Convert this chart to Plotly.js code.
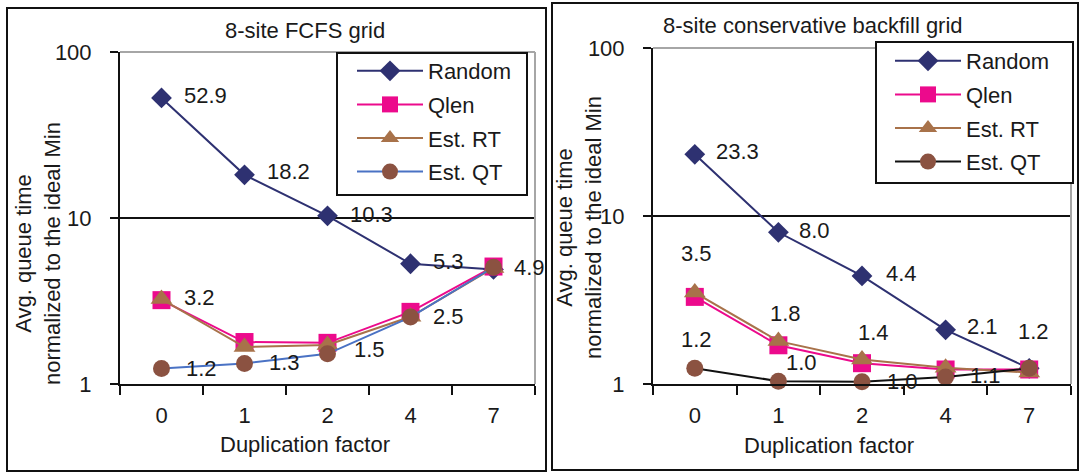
<!DOCTYPE html>
<html>
<head>
<meta charset="utf-8">
<script src="https://cdn.plot.ly/plotly-3.0.1.min.js"></script>
<style>
  html, body { margin: 0; padding: 0; background: #ffffff; }
  #chart { width: 1080px; height: 473px; }
</style>
</head>
<body>
<div id="chart"></div>
<script>
// ---------------- data ----------------
const categories = ['0', '1', '2', '4', '7'];
const seriesNames = ['Random', 'Qlen', 'Est. RT', 'Est. QT'];

// 8-site FCFS grid
const fcfsRandom = [52.9, 18.2, 10.3, 5.3, 4.9];
const fcfsQlen   = [3.2, 1.79, 1.77, 2.72, 5.1];
const fcfsEstRT  = [3.25, 1.67, 1.72, 2.54, 5.0];
const fcfsEstQT  = [1.24, 1.33, 1.52, 2.53, 5.05];

// 8-site conservative backfill grid
const cbfRandom = [23.3, 8.0, 4.4, 2.1, 1.24];
const cbfQlen   = [3.3, 1.7, 1.33, 1.22, 1.22];
const cbfEstRT  = [3.5, 1.8, 1.4, 1.25, 1.17];
const cbfEstQT  = [1.24, 1.04, 1.03, 1.1, 1.24];

const panelTitles = ['8-site FCFS grid', '8-site conservative backfill grid'];
const xTitle = 'Duplication factor';
const yTitle = 'Avg. queue time<br>normalized to the ideal Min';
const yTickVals = [1, 10, 100];
const yTickText = ['1', '10', '100'];

// ---------------- styles ----------------
const FONT = 'Liberation Sans, Arial, sans-serif';
const FS = 22;
const W = 1080, H = 473;
const px = v => v / W;
const py = v => 1 - v / H;

const colRandom = '#2e3171';
const colQlen = '#ec0a8c';
const colRT = '#a8724a';
const colQTmarker = '#8b5241';

const styles = [
  {symbol: 'diamond', size: 16, color: colRandom, line: colRandom},
  {symbol: 'square', size: 18, color: colQlen, line: colQlen},
  {symbol: 'triangle-up', size: 19, color: colRT, line: colRT},
  {symbol: 'circle', size: 17, color: colQTmarker, line: null}
];
const qtLineColors = ['#4a72c4', '#111111'];

// label placement per point: null = no label; [dx, dy, anchor]
const labelSpecs = [
  [ // FCFS
    [[20, -2, 'left'], [20, -3, 'left'], [20, -1, 'left'], [20, -2, 'left'], [18, -2, 'left']],
    [[20, -3, 'left'], null, null, null, null],
    [null, null, null, null, null],
    [[22, 0, 'left'], [22, -1, 'left'], [24, -4, 'left'], [20, -1, 'left'], null]
  ],
  [ // conservative backfill
    [[19, -3, 'left'], [19, -2, 'left'], [22, -2, 'left'], [19, -3, 'left'], [4, -37, 'center']],
    [null, null, null, null, null],
    [[2, -39, 'center'], [7, -28, 'center'], [11, -27, 'center'], null, null],
    [[2, -29, 'center'], [23, -19, 'center'], [23, 0, 'left'], [22, -2, 'left'], null]
  ]
];

const panels = [
  {data: [fcfsRandom, fcfsQlen, fcfsEstRT, fcfsEstQT], xa: 'x', ya: 'y', legend: 'legend',
   xd: [120, 535], yd: [52, 384], frame: [7, 8, 546, 471],
   legBox: [337, 53, 527, 195], legPos: [352, 50], title: [305, 31], xt: [305, 444], yt: [38, 254]},
  {data: [cbfRandom, cbfQlen, cbfEstRT, cbfEstQT], xa: 'x2', ya: 'y2', legend: 'legend2',
   xd: [653, 1071], yd: [48, 384], frame: [552, 3, 1078, 470],
   legBox: [876, 42, 1073, 183], legPos: [890, 40], title: [813, 25], xt: [829, 445], yt: [579, 228]}
];

const traces = [];
const annotations = [];
const shapes = [];

panels.forEach((p, pi) => {
  p.data.forEach((vals, si) => {
    const st = styles[si];
    const lineColor = st.line || qtLineColors[pi];
    traces.push({
      type: 'scatter', mode: 'lines+markers',
      x: categories, y: vals, name: seriesNames[si],
      xaxis: p.xa, yaxis: p.ya, legend: p.legend,
      legendgroup: p.legend + si,
      line: {color: lineColor, width: 2},
      marker: {symbol: st.symbol, size: st.size, color: st.color, line: {width: 0}},
      cliponaxis: false,
      hoverinfo: 'skip'
    });
    vals.forEach((v, i) => {
      const spec = labelSpecs[pi][si][i];
      if (!spec) return;
      annotations.push({
        xref: p.xa, yref: p.ya, x: i, y: Math.log10(v),
        text: v.toFixed(1), showarrow: false,
        xanchor: spec[2], yanchor: 'middle',
        xshift: spec[0], yshift: -spec[1],
        font: {family: FONT, size: FS, color: '#1a1a1a'}
      });
    });
  });
  // titles
  annotations.push({xref: 'paper', yref: 'paper', x: px(p.title[0]), y: py(p.title[1]),
    xanchor: 'center', yanchor: 'middle', showarrow: false, text: panelTitles[pi],
    font: {family: FONT, size: FS, color: '#1a1a1a'}});
  annotations.push({xref: 'paper', yref: 'paper', x: px(p.xt[0]), y: py(p.xt[1]),
    xanchor: 'center', yanchor: 'middle', showarrow: false, text: xTitle,
    font: {family: FONT, size: FS, color: '#1a1a1a'}});
  annotations.push({xref: 'paper', yref: 'paper', x: px(p.yt[0]), y: py(p.yt[1]),
    xanchor: 'center', yanchor: 'middle', showarrow: false, text: yTitle, textangle: -90,
    font: {family: FONT, size: FS, color: '#1a1a1a'}});
  // outer frame
  shapes.push({type: 'rect', xref: 'paper', yref: 'paper', layer: 'below',
    x0: px(p.frame[0]), x1: px(p.frame[2]), y0: py(p.frame[3]), y1: py(p.frame[1]),
    line: {color: '#111111', width: 2}});
  // gray plot-area border (top and right)
  const xdom = p.xa + ' domain', ydom = p.ya + ' domain';
  shapes.push({type: 'line', xref: xdom, yref: ydom, layer: 'above', x0: 0, x1: 1, y0: 1, y1: 1,
    line: {color: '#a6a6a6', width: 2}});
  shapes.push({type: 'line', xref: xdom, yref: ydom, layer: 'above', x0: 1, x1: 1, y0: 0, y1: 1,
    line: {color: '#a6a6a6', width: 2}});
});

// legend boxes (drawn after borders so they cover them)
panels.forEach(p => {
  shapes.push({type: 'rect', xref: 'paper', yref: 'paper', layer: 'above',
    x0: px(p.legBox[0]), x1: px(p.legBox[2]), y0: py(p.legBox[3]), y1: py(p.legBox[1]),
    fillcolor: '#ffffff', line: {color: '#111111', width: 2}});
});

function xaxisDef(p, anchor) {
  return {
    domain: [px(p.xd[0]), px(p.xd[1])], anchor: anchor,
    type: 'category', categoryorder: 'array', categoryarray: categories,
    range: [-0.5, 4.5], showline: true, linecolor: '#111111', linewidth: 2,
    ticks: 'outside', tickson: 'boundaries', ticklen: 9, tickwidth: 2, tickcolor: '#111111',
    showgrid: false, zeroline: false, ticklabelstandoff: 11,
    tickfont: {family: FONT, size: FS, color: '#1a1a1a'}, fixedrange: true
  };
}
function yaxisDef(p, anchor) {
  return {
    domain: [py(p.yd[1]), py(p.yd[0])], anchor: anchor,
    type: 'log', range: [0, 2], tickvals: yTickVals, ticktext: yTickText,
    showline: true, linecolor: '#111111', linewidth: 2,
    ticks: 'outside', ticklen: 8, tickwidth: 2, tickcolor: '#111111',
    showgrid: true, gridcolor: '#111111', gridwidth: 2, zeroline: false,
    ticklabelstandoff: 14,
    tickfont: {family: FONT, size: FS, color: '#1a1a1a'}, fixedrange: true
  };
}

function legendDef(p) {
  return {
    x: px(p.legPos[0]), y: py(p.legPos[1]), xanchor: 'left', yanchor: 'top',
    bgcolor: 'rgba(0,0,0,0)', borderwidth: 0, itemwidth: 66,
    traceorder: 'grouped', tracegroupgap: 2,
    font: {family: FONT, size: FS, color: '#1a1a1a'}
  };
}

const layout = {
  width: W, height: H,
  margin: {l: 0, r: 0, t: 0, b: 0},
  paper_bgcolor: '#ffffff', plot_bgcolor: '#ffffff',
  showlegend: true,
  xaxis: xaxisDef(panels[0], 'y'),
  yaxis: yaxisDef(panels[0], 'x'),
  xaxis2: xaxisDef(panels[1], 'y2'),
  yaxis2: yaxisDef(panels[1], 'x2'),
  legend: legendDef(panels[0]),
  legend2: legendDef(panels[1]),
  annotations: annotations,
  shapes: shapes,
  font: {family: FONT, size: FS, color: '#1a1a1a'}
};

Plotly.newPlot('chart', traces, layout, {staticPlot: true, displayModeBar: false});
</script>
</body>
</html>
